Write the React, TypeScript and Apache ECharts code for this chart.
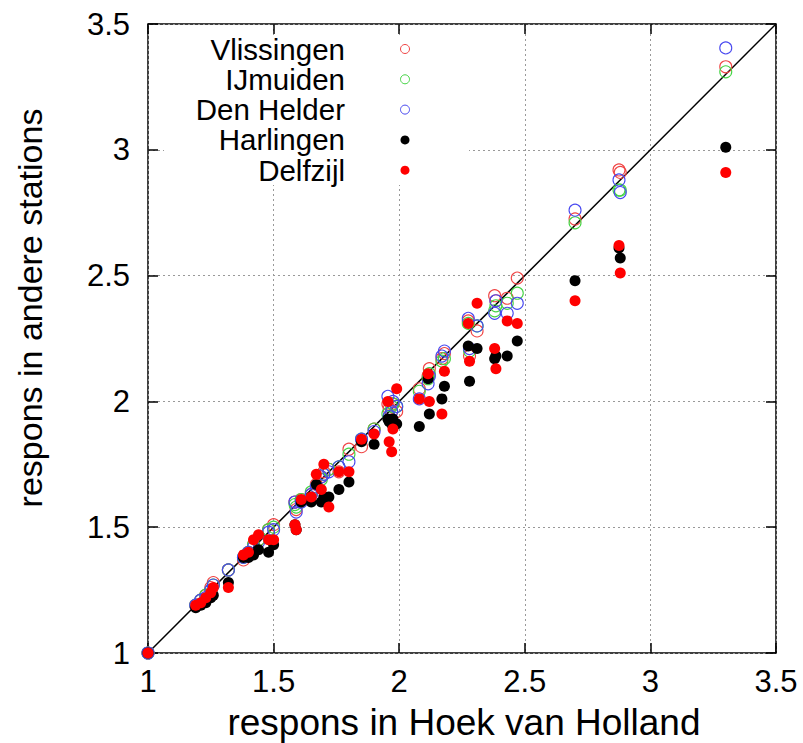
import React, { useEffect, useRef } from "react";
import * as echarts from "echarts";

// Hoek van Holland response (x) and responses at the other stations (y)
const hoekVanHolland = [1.0, 1.19, 1.21, 1.23, 1.25, 1.26, 1.32, 1.38, 1.4, 1.42, 1.44, 1.48, 1.5, 1.585, 1.59, 1.61, 1.65, 1.67, 1.69, 1.7, 1.72, 1.76, 1.8, 1.85, 1.9, 1.955, 1.96, 1.97, 1.975, 1.99, 2.08, 2.115, 2.12, 2.17, 2.18, 2.275, 2.28, 2.31, 2.38, 2.385, 2.43, 2.47, 2.7, 2.875, 2.88, 3.3];
const vlissingen = [1.0, 1.19, 1.21, 1.23, 1.26, 1.28, 1.33, 1.37, 1.4, 1.43, 1.45, 1.49, 1.51, 1.6, 1.57, 1.61, 1.63, 1.67, 1.7, 1.72, 1.73, 1.72, 1.81, 1.82, 1.89, 1.99, 1.97, 1.96, 1.99, 1.96, 2.05, 2.1, 2.13, 2.17, 2.19, 2.32, 2.18, 2.28, 2.42, 2.4, 2.41, 2.49, 2.725, 2.92, 2.91, 3.33];
const ijmuiden = [1.0, 1.19, 1.21, 1.23, 1.25, 1.27, 1.33, 1.38, 1.4, 1.43, 1.45, 1.49, 1.5, 1.59, 1.58, 1.61, 1.64, 1.66, 1.69, 1.71, 1.73, 1.74, 1.79, 1.85, 1.89, 1.95, 1.94, 1.98, 1.99, 1.98, 2.04, 2.09, 2.11, 2.16, 2.17, 2.31, 2.2, 2.3, 2.36, 2.38, 2.39, 2.43, 2.71, 2.84, 2.84, 3.31];
const denHelder = [1.0, 1.19, 1.21, 1.22, 1.25, 1.27, 1.33, 1.38, 1.4, 1.42, 1.44, 1.48, 1.49, 1.6, 1.56, 1.6, 1.63, 1.66, 1.7, 1.71, 1.72, 1.74, 1.76, 1.85, 1.88, 2.02, 1.94, 1.96, 2.0, 1.98, 2.01, 2.07, 2.1, 2.18, 2.2, 2.33, 2.21, 2.3, 2.35, 2.4, 2.35, 2.39, 2.76, 2.88, 2.83, 3.405];
const harlingen = [1.0, 1.18, 1.19, 1.2, 1.22, 1.23, 1.28, 1.38, 1.38, 1.39, 1.41, 1.4, 1.43, 1.51, 1.49, 1.6, 1.6, 1.67, 1.6, 1.62, 1.62, 1.65, 1.68, 1.84, 1.83, 1.93, 1.92, 1.91, 1.93, 1.91, 1.9, 2.09, 1.95, 2.01, 2.06, 2.22, 2.08, 2.21, 2.17, 2.18, 2.18, 2.24, 2.48, 2.61, 2.57, 3.01];
const delfzijl = [1.0, 1.19, 1.2, 1.22, 1.24, 1.26, 1.26, 1.39, 1.4, 1.45, 1.47, 1.45, 1.45, 1.51, 1.49, 1.61, 1.62, 1.71, 1.65, 1.75, 1.58, 1.72, 1.72, 1.85, 1.87, 2.0, 1.84, 1.8, 1.89, 2.05, 2.01, 2.11, 2.0, 1.95, 2.12, 2.31, 2.16, 2.39, 2.21, 2.13, 2.32, 2.31, 2.4, 2.62, 2.51, 2.91];

const stationNames = ["Vlissingen", "IJmuiden", "Den Helder", "Harlingen", "Delfzijl"];
const stationValues = [vlissingen, ijmuiden, denHelder, harlingen, delfzijl];
const stationColors = ["#f04444", "#44d444", "#4848f0", "#000000", "#ff0000"];
const stationFilled = [false, false, false, true, true];
const axisTicks = [1, 1.5, 2, 2.5, 3, 3.5];

const FONT = "Liberation Sans, Arial, sans-serif";

export default function App() {
  const ref = useRef<HTMLDivElement>(null);
  useEffect(() => {
    if (!ref.current) return;
    const chart = echarts.init(ref.current, undefined, { renderer: "svg" });
    const tickStyle = { inside: true, length: 10, lineStyle: { color: "#000", width: 1.5 } };
    const split = { show: true, lineStyle: { color: "#999", type: [2, 3] as any, width: 1 } };
    const mkAxis = (main: boolean, pos: string) => ({
      type: "value",
      position: pos,
      min: axisTicks[0],
      max: axisTicks[axisTicks.length - 1],
      interval: 0.5,
      axisLine: { show: false },
      axisTick: tickStyle,
      axisLabel: main
        ? { show: true, color: "#000", fontSize: 31, fontFamily: FONT, margin: pos === "bottom" ? 13 : 18 }
        : { show: false },
      splitLine: main ? split : { show: false },
    });

    const series: any[] = [
      {
        type: "line",
        data: [
          [axisTicks[0], axisTicks[0]],
          [axisTicks[axisTicks.length - 1], axisTicks[axisTicks.length - 1]],
        ],
        showSymbol: false,
        symbol: "none",
        lineStyle: { color: "#000", width: 1.5 },
        silent: true,
        z: 2,
      },
    ];
    stationNames.forEach((name, i) => {
      series.push({
        name,
        type: "scatter",
        symbol: "circle",
        symbolSize: stationFilled[i] ? 11 : 12,
        data: hoekVanHolland.map((x, k) => [x, stationValues[i][k]]),
        itemStyle: stationFilled[i]
          ? { color: stationColors[i], opacity: 1 }
          : { color: "rgba(0,0,0,0)", borderColor: stationColors[i], borderWidth: 1.1, opacity: 1 },
        z: 3 + i,
      });
    });

    const legendGraphics: any[] = [
      { type: "rect", shape: { x: 164, y: 35, width: 305, height: 150 }, style: { fill: "#fff" }, z: 1, silent: true },
    ];
    stationNames.forEach((name, i) => {
      const cy = 49 + i * 30.3;
      legendGraphics.push({
        type: "text",
        x: 345,
        y: cy,
        style: { text: name, font: `29.5px ${FONT}`, fill: "#000", align: "right", verticalAlign: "middle" },
        z: 10,
      });
      legendGraphics.push({
        type: "circle",
        shape: { cx: 405, cy, r: 4.5 },
        style: stationFilled[i]
          ? { fill: stationColors[i] }
          : { fill: "none", stroke: stationColors[i], lineWidth: 1 },
        z: 10,
      });
    });
    legendGraphics.push({
      type: "text",
      x: 464,
      y: 722,
      style: { text: "respons in Hoek van Holland", font: `37px ${FONT}`, fill: "#000", align: "center", verticalAlign: "middle" },
      z: 10,
    });
    legendGraphics.push({
      type: "text",
      x: 30,
      y: 308,
      rotation: Math.PI / 2,
      style: { text: "respons in andere stations", font: `34px ${FONT}`, fill: "#000", align: "center", verticalAlign: "middle" },
      z: 10,
    });

    chart.setOption({
      animation: false,
      backgroundColor: "#fff",
      textStyle: { fontFamily: FONT },
      grid: { left: 148, top: 24, right: 27, bottom: 90, show: true, borderColor: "#000", borderWidth: 1.5, backgroundColor: "rgba(0,0,0,0)", z: 0 },
      xAxis: [mkAxis(true, "bottom"), mkAxis(false, "top")],
      yAxis: [mkAxis(true, "left"), mkAxis(false, "right")],
      series,
      graphic: legendGraphics,
    });
    return () => chart.dispose();
  }, []);
  return <div ref={ref} style={{ position: "fixed", left: 0, top: 0, width: 803, height: 743 }} />;
}
